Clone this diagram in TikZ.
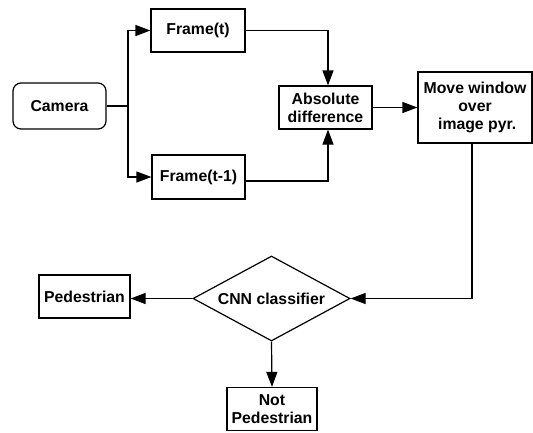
\documentclass[tikz,border=0pt]{standalone}
\usepackage{fontspec}
\setmainfont{Liberation Sans}
\usetikzlibrary{shapes.geometric,arrows.meta}
\begin{document}
\begin{tikzpicture}[x=1pt,y=-1pt,
  every node/.style={font=\fontsize{15.8}{18}\selectfont\bfseries, line width=1.2pt, inner sep=0pt},
  box/.style={draw, rectangle, align=center},
  conn/.style={line width=1.2pt, -{Triangle[length=15pt,width=11pt]}},
  plain/.style={line width=1.2pt}]
\useasboundingbox (0,0) rectangle (533,432);
\node[box, rounded corners=8pt, minimum width=93pt, minimum height=46pt] (cam) at (59.5,106) {Camera};
\node[box, minimum width=94pt, minimum height=43pt] (ft) at (198,30.5) {Frame(t)};
\node[box, minimum width=93pt, minimum height=44pt] (ft1) at (198.5,177) {Frame(t-1)};
\node[box, minimum width=93pt, minimum height=43pt] (abs) at (325.5,107.5) {Absolute\\difference};
\node[box, minimum width=114pt, minimum height=71pt] (mw) at (475,107.5) {Move window\\over\\\ image pyr.};
\node[draw, diamond, minimum width=157pt, minimum height=85pt, aspect=1.85] (cnn) at (271.5,298.5) {CNN classifier};
\node[box, minimum width=91pt, minimum height=43pt] (ped) at (84.5,296.5) {Pedestrian};
\node[box, minimum width=90pt, minimum height=43pt] (np) at (272,409) {Not\\Pedestrian};
\coordinate (j) at (128,106);
\draw[plain] (cam.east) -- (j);
\draw[conn] (j) |- (ft.west);
\draw[conn] (j) |- (ft1.west);
\draw[conn] (ft.east) -| ([xshift=2.5pt]abs.north);
\draw[conn] ([yshift=-4pt]ft1.east) -| ([xshift=2.5pt]abs.south);
\draw[conn] (abs.east) -- (mw.west |- abs.east);
\draw[conn] ([xshift=-3pt]mw.south) |- (cnn.east);
\draw[conn] (cnn.west) -- (ped.east |- cnn.west);
\draw[conn] (cnn.south) -- (np.north);
\end{tikzpicture}
\end{document}
